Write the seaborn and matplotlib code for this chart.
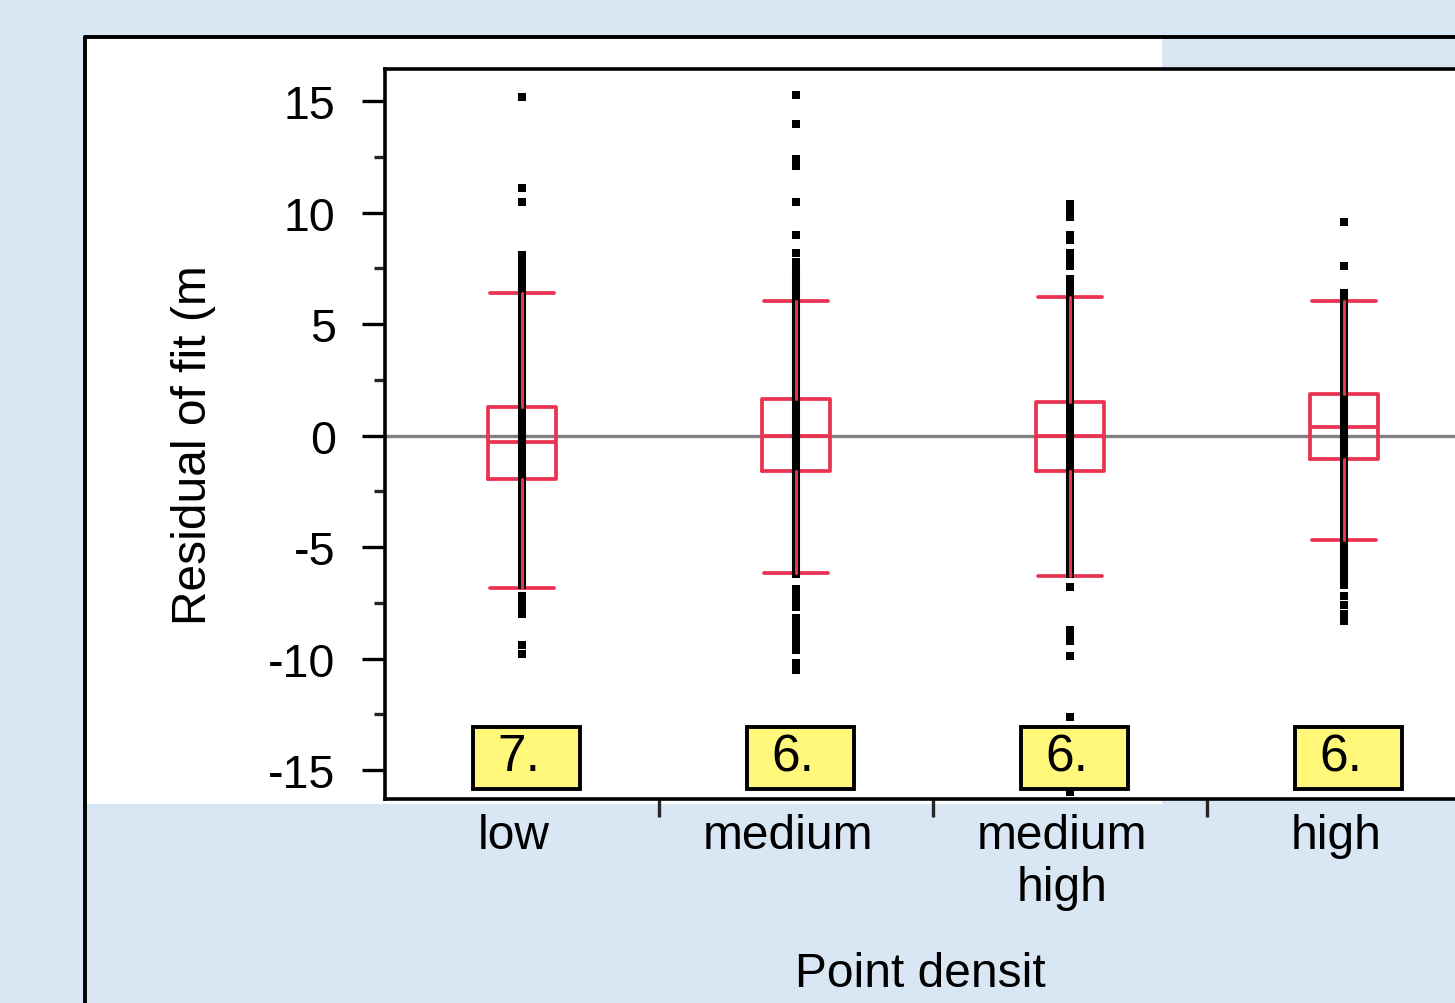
import numpy as np
import pandas as pd
import matplotlib
matplotlib.use('Agg')
import matplotlib.pyplot as plt
import matplotlib.transforms as mtransforms
from matplotlib.patches import Rectangle
from matplotlib.lines import Line2D
import seaborn as sns

sns.set_theme(style='white')
plt.rcParams['font.family'] = ['Liberation Sans', 'DejaVu Sans']

# categories and box statistics
cats = ['low', 'medium', 'medium\nhigh', 'high']
med = [-0.3, 0.0, 0.0, 0.4]
q1 = [-1.95, -1.6, -1.6, -1.05]
q3 = [1.3, 1.65, 1.5, 1.85]
whis_lo = [-6.85, -6.15, -6.3, -4.7]
whis_hi = [6.4, 6.05, 6.2, 6.05]
n_labels = ['7.', '6.', '6.', '6.']

# dense part of the residual strip
core_lo = [-6.9, -6.4, -6.4, -6.9]
core_hi = [6.8, 7.6, 7.2, 6.6]

# separate residual points
pts_low = [15.2, 11.1, 10.5, 8.1, 7.9, 7.6, 7.3, 7.0, -7.2, -7.5, -7.8, -8.0, -9.4, -9.8]
pts_medium = [15.3, 14.0, 12.4, 12.1, 10.5, 9.0, 8.2, 7.8, -6.9, -7.2, -7.5, -7.7,
              -8.2, -8.5, -8.8, -9.1, -9.4, -9.6, -10.2, -10.5]
pts_medhigh = [10.4, 10.1, 9.8, 9.0, 8.8, 8.2, 7.9, 7.6, -6.8, -8.7, -9.0, -9.2,
               -9.9, -12.6, -16.0]
pts_high = [9.6, 7.6, -7.2, -7.6, -8.0, -8.3]

red = '#ea3350'

pts = pd.DataFrame({
    'density': [cats[0]] * len(pts_low) + [cats[1]] * len(pts_medium)
               + [cats[2]] * len(pts_medhigh) + [cats[3]] * len(pts_high),
    'resid': pts_low + pts_medium + pts_medhigh + pts_high,
})

fig = plt.figure(figsize=(14.55, 10.04), dpi=100)
fig.patch.set_facecolor('#d9e7f5')

# white panel and black frame
fig.patches.append(Rectangle((85 / 1455, 1 - 805 / 1004), (1162 - 85) / 1455, (805 - 38) / 1004,
                             transform=fig.transFigure, facecolor='white', edgecolor='none', zorder=-5))
fig.lines.append(Line2D([85 / 1455, 85 / 1455], [0, 1 - 38 / 1004], transform=fig.transFigure,
                        color='black', lw=2.8, zorder=-4))
fig.lines.append(Line2D([85 / 1455, 1], [1 - 38 / 1004, 1 - 38 / 1004], transform=fig.transFigure,
                        color='black', lw=2.8, zorder=-4))

ax = fig.add_axes([385 / 1455, 1 - 800 / 1004, 1096 / 1455, 730 / 1004])
ax.set_facecolor('white')

ax.axhline(0, color='#808080', lw=2.4, zorder=1)

stats = []
for i in range(len(cats)):
    stats.append(dict(med=med[i], q1=q1[i], q3=q3[i], whislo=whis_lo[i], whishi=whis_hi[i], fliers=[]))
ax.bxp(stats, positions=range(len(cats)), widths=0.25, capwidths=0.235, showfliers=False,
       boxprops=dict(color=red, lw=2.7),
       medianprops=dict(color=red, lw=2.7),
       whiskerprops=dict(color=red, lw=2.2),
       capprops=dict(color=red, lw=2.7),
       zorder=2)

ax.vlines(range(len(cats)), core_lo, core_hi, color='black', lw=5.8, zorder=3)
sns.stripplot(data=pts, x='density', y='resid', order=cats, jitter=False, marker='s',
              size=5.6, color='black', linewidth=0, ax=ax, zorder=3)
# whisker lines over the dense strip
for i in range(len(cats)):
    ax.plot([i, i], [whis_lo[i], q1[i]], color=red, lw=2.2, zorder=4)
    ax.plot([i, i], [q3[i], whis_hi[i]], color=red, lw=2.2, zorder=4)

# yellow count labels
for i, lab in enumerate(n_labels):
    ax.add_patch(Rectangle((i - 0.18, -15.85), 0.39, 2.8, facecolor='#fff87a', edgecolor='black',
                           lw=2.8, zorder=5, clip_on=False))
    ax.text(i - 0.09, -14.4, lab, fontsize=37, ha='left', va='center', color='black', zorder=6)

ax.set_xlim(-0.5, 3.5)
ax.set_ylim(-16.3, 16.45)
ax.set_yticks([-15, -10, -5, 0, 5, 10, 15])
ax.set_yticklabels(['-15', '-10', '-5', '0', '5', '10', '15'])
ax.set_yticks(np.arange(-12.5, 15, 5), minor=True)
ax.set_xticks(range(len(cats)))
ax.set_xticklabels(cats)
ax.set_xticks([0.5, 1.5, 2.5], minor=True)

ax.tick_params(axis='y', which='major', direction='out', length=16.5, width=2.4, pad=19,
               labelsize=33.5, colors='black', left=True)
ax.tick_params(axis='y', which='minor', direction='out', length=8, width=2.4, left=True)
ax.tick_params(axis='x', which='major', length=0, pad=10, labelsize=34.5, colors='black')
ax.tick_params(axis='x', which='minor', direction='out', length=13, width=2.4, bottom=True)
for lab in ax.get_xticklabels():
    lab.set_linespacing(1.2)
    lab.set_transform(lab.get_transform() + mtransforms.ScaledTranslation(-8 / 100, 0, fig.dpi_scale_trans))

for s in ax.spines.values():
    s.set_color('black')
    s.set_linewidth(2.6)

ax.set_xlabel('')
ax.set_ylabel('')
fig.text(193 / 1455, 1 - 445 / 1004, 'Residual of fit (m', rotation=90, fontsize=34.5,
         ha='center', va='center', color='black')
fig.text(920 / 1455, 1 - 975 / 1004, 'Point densit', fontsize=34.5,
         ha='center', va='center', color='black')

fig.savefig('out.png', dpi=100, facecolor=fig.get_facecolor())
